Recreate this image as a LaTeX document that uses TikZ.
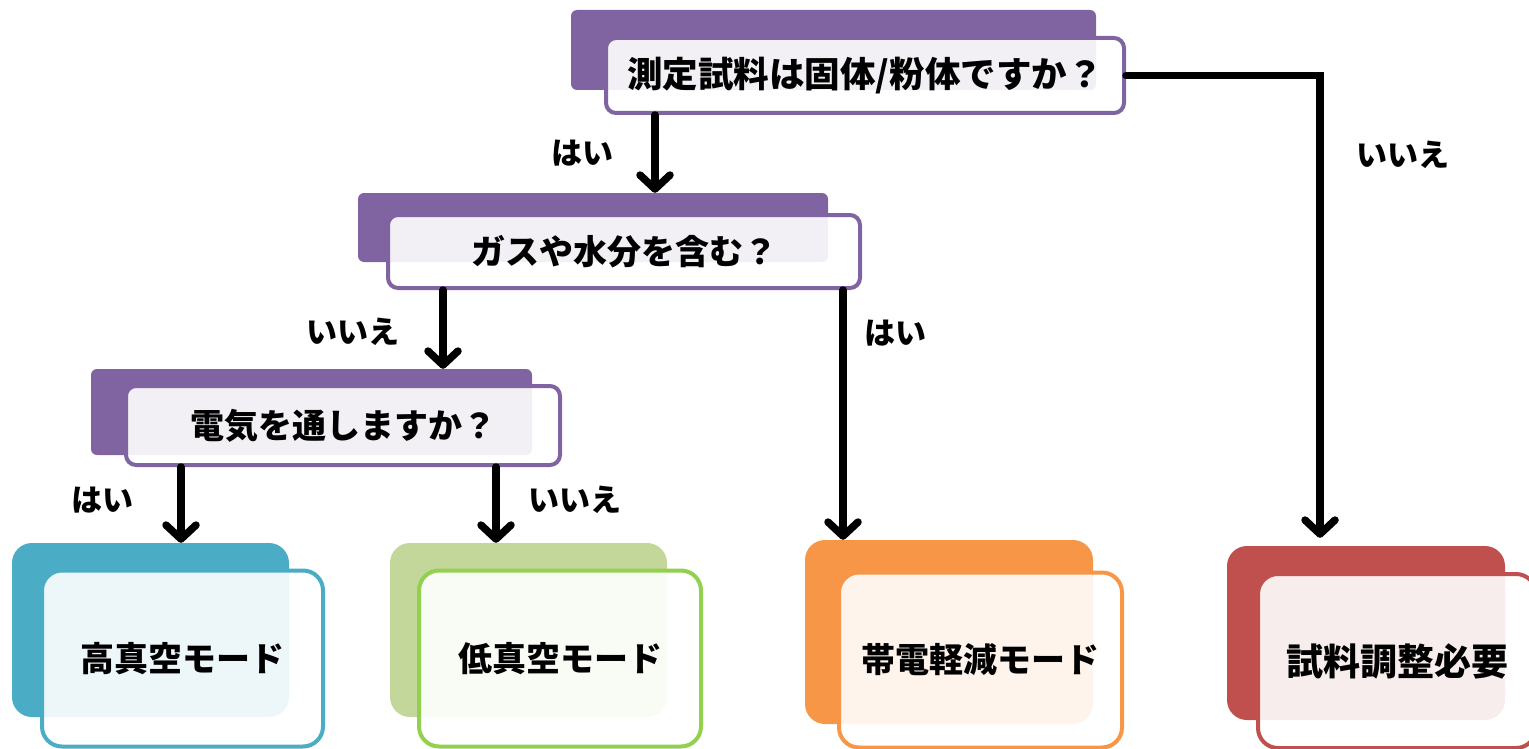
\documentclass[tikz,border=0pt]{standalone}
\usepackage{fontspec}
\newfontfamily\jp{Noto Sans CJK JP}
\usetikzlibrary{arrows.meta}
\definecolor{cpurple}{HTML}{8064A2}
\definecolor{cblue}{HTML}{4BACC6}
\definecolor{cgreenback}{HTML}{C4D79B}
\definecolor{cgreen}{HTML}{92D050}
\definecolor{corange}{HTML}{F79646}
\definecolor{cred}{HTML}{C0504D}
\tikzset{
  backq/.style={fill=#1, draw=none, rounded corners=6pt, inner sep=0pt},
  frontq/.style={draw=#1, line width=4pt, fill=white, fill opacity=0.9, text opacity=1, rounded corners=10pt, inner sep=0pt, font=\jp\bfseries\fontsize{34}{40}\selectfont},
  backm/.style={fill=#1, draw=none, rounded corners=20pt, inner sep=0pt},
  frontm/.style={draw=#1, line width=4pt, fill=white, fill opacity=0.9, text opacity=1, rounded corners=20pt, inner sep=0pt, font=\jp\bfseries\fontsize{34}{40}\selectfont},
  lbl/.style={font=\jp\bfseries\fontsize{31}{36}\selectfont, inner sep=0pt},
  arr/.style={line width=7.5pt, line cap=round, line join=miter, -{Straight Barb[length=14pt,width=30pt,line cap=round,line join=round]}},
}
\begin{document}
\begin{tikzpicture}[x=1pt,y=-1pt]
\useasboundingbox (0,0) rectangle (1529,749);
\clip (0,0) rectangle (1529,749);
% question 1
\node[backq=cpurple, minimum width=525pt, minimum height=80pt] (b1) at (833.5,50) {};
\node[frontq=cpurple, minimum width=518pt, minimum height=75pt, font=\jp\bfseries\fontsize{35.5}{40}\selectfont] (q1) at (865,75.5) {測定試料は固体/粉体ですか？};
% question 2
\node[backq=cpurple, minimum width=470pt, minimum height=69pt] (b2) at (593,227.5) {};
\node[frontq=cpurple, minimum width=472pt, minimum height=73pt] (q2) at (624,251.5) {ガスや水分を含む？};
% question 3
\node[backq=cpurple, minimum width=441pt, minimum height=86pt] (b3) at (311.5,412) {};
\node[frontq=cpurple, minimum width=434pt, minimum height=79pt] (q3) at (343,425.5) {電気を通しますか？};
% results
\node[backm=cblue, minimum width=277pt, minimum height=174pt] (rb1) at (150.5,630) {};
\node[frontm=cblue, minimum width=281pt, minimum height=176pt] (r1) at (182.5,658.5) {高真空モード};
\node[backm=cgreenback, minimum width=277pt, minimum height=174pt] (rb2) at (528.5,630) {};
\node[frontm=cgreen, minimum width=282pt, minimum height=176pt] (r2) at (560,658.5) {低真空モード};
\node[backm=corange, minimum width=288pt, minimum height=184pt] (rb3) at (949,632) {};
\node[frontm=corange, minimum width=283pt, minimum height=175pt] (r3) at (980.5,660) {帯電軽減モード};
\node[backm=cred, minimum width=278pt, minimum height=174pt] (rb4) at (1366,633) {};
\node[frontm=cred, minimum width=278pt, minimum height=174pt, font=\jp\bfseries\fontsize{37}{42}\selectfont] (r4) at (1397,661) {試料調整必要};
% arrows
\coordinate (t1) at (1320,0);
\draw[arr] (655,0 |- q1.south) -- (655,0 |- b2.north);
\draw[arr] (443,0 |- q2.south) -- (443,0 |- b3.north);
\draw[arr] (181,0 |- q3.south) -- (181,0 |- rb1.north);
\draw[arr] (496,0 |- q3.south) -- (496,0 |- rb2.north);
\draw[arr] (843,0 |- q2.south) -- (843,0 |- rb3.north);
\draw[arr, shorten >=8pt] (q1.east) -- (t1 |- q1.east) -- (t1 |- rb4.north);
% labels
\node[lbl] (l1) at (582,153) {はい};
\node[lbl] (l2) at (1403,155) {いいえ};
\node[lbl] (l3) at (353,332) {いいえ};
\node[lbl] (l4) at (895,333) {はい};
\node[lbl] (l5) at (102,500) {はい};
\node[lbl] (l6) at (575,500) {いいえ};
\end{tikzpicture}
\end{document}
